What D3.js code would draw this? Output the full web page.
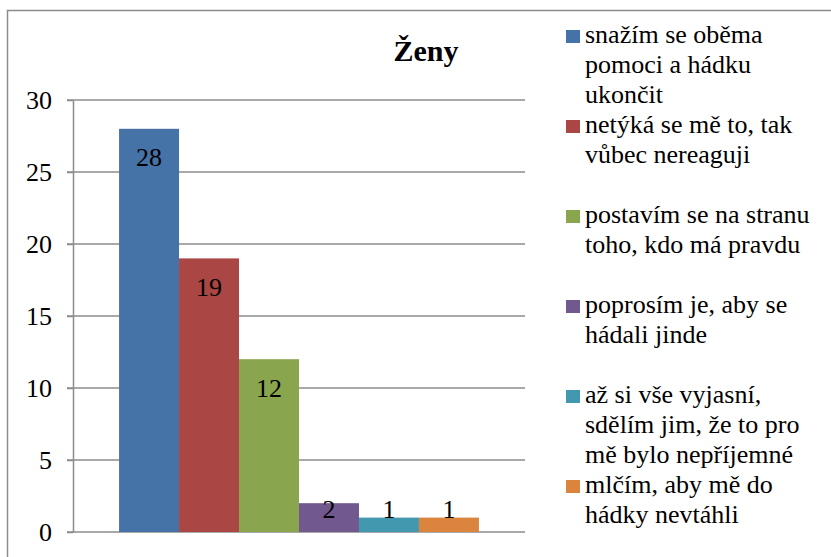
<!DOCTYPE html>
<html>
<head>
<meta charset="utf-8">
<style>
  body { margin: 0; background: #fff; }
  svg { display: block; }
</style>
</head>
<body>
<svg id="chart" width="831" height="557"></svg>
<script src="https://cdnjs.cloudflare.com/ajax/libs/d3/7.8.5/d3.min.js"></script>
<script>
// data
var title = "Ženy";
var categories = [""];
var seriesNames = [
    "snažím se oběma pomoci a hádku ukončit",
    "netýká se mě to, tak vůbec nereaguji",
    "postavím se na stranu toho, kdo má pravdu",
    "poprosím je, aby se hádali jinde",
    "až si vše vyjasní, sdělím jim, že to pro mě bylo nepříjemné",
    "mlčím, aby mě do hádky nevtáhli"
];
// legend lines as wrapped in the picture
var legendLines = [
    ["snažím se oběma", "pomoci a hádku", "ukončit"],
    ["netýká se mě to, tak", "vůbec nereaguji"],
    ["postavím se na stranu", "toho, kdo má pravdu"],
    ["poprosím je, aby se", "hádali jinde"],
    ["až si vše vyjasní,", "sdělím jim, že to pro", "mě bylo nepříjemné"],
    ["mlčím, aby mě do", "hádky nevtáhli"]
];
var values = [28, 19, 12, 2, 1, 1];
var yTicks = [0, 5, 10, 15, 20, 25, 30];
var colors = ["#4572a7", "#aa4643", "#89a54e", "#71588f", "#4198af", "#db843d"];

var font = "Liberation Serif";
var svg = d3.select("#chart");
var gridColor = "#8c8c8c";

// outer frame (left + top visible)
svg.append("path")
    .attr("d", "M7.5,557 L7.5,10.5 L831,10.5")
    .attr("fill", "none")
    .attr("stroke", gridColor)
    .attr("stroke-width", 1.5);

var plot = {left: 73, right: 525, top: 100, bottom: 532};

var y = d3.scaleLinear().domain([0, 30]).range([plot.bottom, plot.top]);
var x0 = d3.scaleBand().domain(categories).range([plot.left, plot.right])
    .paddingInner(0).paddingOuter(0.128);
var x1 = d3.scaleBand().domain(d3.range(values.length)).range([0, x0.bandwidth()]).padding(0);

// gridlines (include the tick part left of the axis)
svg.append("g").selectAll("line")
    .data(yTicks)
    .enter().append("line")
    .attr("x1", plot.left - 6)
    .attr("x2", plot.right)
    .attr("y1", d => y(d))
    .attr("y2", d => y(d))
    .attr("stroke", gridColor)
    .attr("stroke-width", 1.5);

// y axis
var yAxis = svg.append("g")
    .attr("transform", "translate(" + plot.left + ",0)")
    .call(d3.axisLeft(y).tickValues(yTicks).tickSizeInner(6).tickSizeOuter(0).tickPadding(15))
    .attr("font-family", font)
    .attr("font-size", 26);
yAxis.select(".domain").attr("stroke", gridColor).attr("stroke-width", 1.5);
yAxis.selectAll(".tick line").attr("stroke", gridColor).attr("stroke-width", 1.5);
yAxis.selectAll(".tick text").attr("fill", "#000");

// bars
var gx = x0(categories[0]);
svg.append("g").selectAll("rect")
    .data(values)
    .enter().append("rect")
    .attr("x", (d, i) => gx + x1(i))
    .attr("y", d => y(d))
    .attr("width", x1.bandwidth())
    .attr("height", d => y(0) - y(d))
    .attr("fill", (d, i) => colors[i]);

// value labels (inside end, pushed up for short bars)
svg.append("g").selectAll("text")
    .data(values)
    .enter().append("text")
    .attr("x", (d, i) => gx + x1(i) + x1.bandwidth() / 2)
    .attr("y", d => Math.min(y(d) + 29, y(0) - 23))
    .attr("text-anchor", "middle")
    .attr("dominant-baseline", "central")
    .attr("font-family", font)
    .attr("font-size", 26)
    .text(d => d);

// title
svg.append("text")
    .attr("x", 426)
    .attr("y", 61)
    .attr("text-anchor", "middle")
    .attr("font-family", font)
    .attr("font-size", 30)
    .attr("font-weight", "bold")
    .text(title);

// legend
var legend = svg.append("g");
var entry = legend.selectAll("g")
    .data(legendLines)
    .enter().append("g")
    .attr("transform", (d, i) => "translate(566," + (43 + i * 90) + ")");
entry.append("rect")
    .attr("x", 0)
    .attr("y", -13)
    .attr("width", 14)
    .attr("height", 13)
    .attr("fill", (d, i) => colors[i]);
entry.append("text")
    .attr("x", 19)
    .attr("y", 0)
    .attr("font-family", font)
    .attr("font-size", 26)
    .selectAll("tspan")
    .data(d => d)
    .enter().append("tspan")
    .attr("x", 19)
    .attr("dy", (d, j) => j === 0 ? 0 : 30)
    .text(d => d);
</script>
</body>
</html>
